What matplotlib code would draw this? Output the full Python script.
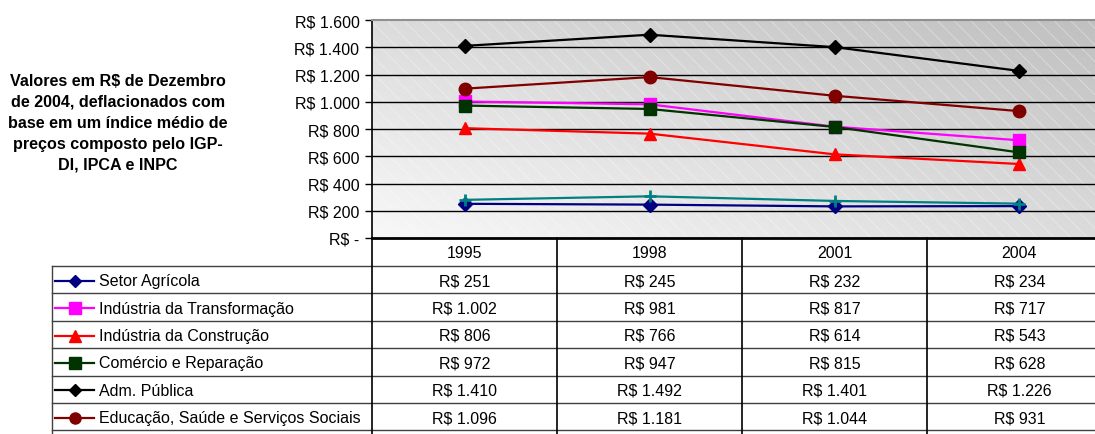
import numpy as np
import matplotlib
matplotlib.use("Agg")
import matplotlib.pyplot as plt

plt.rcParams['font.family'] = ['Liberation Sans', 'DejaVu Sans']

# data
anos = ['1995', '1998', '2001', '2004']
setores = ['Setor Agrícola', 'Indústria da Transformação', 'Indústria da Construção',
           'Comércio e Reparação', 'Adm. Pública', 'Educação, Saúde e Serviços Sociais',
           'Outros Serviços']
agricola = [251, 245, 232, 234]
transformacao = [1002, 981, 817, 717]
construcao = [806, 766, 614, 543]
comercio = [972, 947, 815, 628]
adm_publica = [1410, 1492, 1401, 1226]
educacao = [1096, 1181, 1044, 931]
outros = [280, 306, 272, 252]
series = [agricola, transformacao, construcao, comercio, adm_publica, educacao, outros]

cores = ['#000080', '#FF00FF', '#FF0000', '#003300', '#000000', '#800000', '#008080']
marcadores = ['D', 's', '^', 's', 'D', 'o', '+']
tam = [7.5, 9, 9, 9, 7.5, 9, 9]

W, H = 1095, 435
fig = plt.figure(figsize=(W / 100, H / 100), dpi=100)

x0, ytop, ybot = 372, 21, 239
colw = 185
ax = fig.add_axes([x0 / W, (H - ybot) / H, (W - x0) / W, (ybot - ytop) / H])
ax.set_xlim(-0.5, (W - x0) / colw - 0.5)
ax.set_ylim(0, 1600)

# gradient background with faint diagonal stripes
gx, gy = np.meshgrid(np.linspace(0, 1, 200), np.linspace(1, 0, 100))
grad = 0.97 - 0.22 * (gx + gy) / 2
ax.imshow(grad, cmap='gray', vmin=0, vmax=1, extent=[0, 1, 0, 1], transform=ax.transAxes,
          aspect='auto', zorder=0, interpolation='bilinear')
plt.rcParams['hatch.linewidth'] = 0.5
ax.add_patch(plt.Rectangle((0, 0), 1, 1, transform=ax.transAxes, facecolor='none',
                           edgecolor='white', hatch='\\\\', lw=0, alpha=0.45, zorder=0.5))

for v in range(200, 1600, 200):
    ax.axhline(v, color='black', lw=1, zorder=1)

xs = np.arange(len(anos))
for vals, c, m, s in zip(series, cores, marcadores, tam):
    ax.plot(xs, vals, color=c, lw=1.6, marker=m, markersize=s, markeredgewidth=2 if m == '+' else 1,
            markerfacecolor=c, markeredgecolor=c, zorder=3)

yt = list(range(0, 1601, 200))
ax.set_yticks(yt)
ax.set_yticklabels(['R$ -' if v == 0 else 'R$ ' + f'{v:,}'.replace(',', '.') for v in yt], fontsize=11.5)
ax.set_xticks([])
ax.tick_params(axis='y', length=5, width=1, pad=4)
ax.spines['right'].set_visible(False)
ax.spines['top'].set_color('#909090')
ax.spines['top'].set_linewidth(1.5)
ax.spines['bottom'].set_linewidth(2)
ax.spines['left'].set_linewidth(1.2)

# side note
fig.text(118 / W, 1 - 123 / H,
         'Valores em R$ de Dezembro\nde 2004, deflacionados com\nbase em um índice médio de\npreços composto pelo IGP-\nDI, IPCA e INPC',
         ha='center', va='center', fontsize=11.6, fontweight='bold', linespacing=1.5)

# data table
tab = fig.add_axes([0, 0, 1, 1], zorder=5)
tab.set_xlim(0, W)
tab.set_ylim(H, 0)
tab.axis('off')

xl = 52
rh = 27.4
r0 = 267
for i, a in enumerate(anos):
    tab.text(x0 + colw * (i + 0.5), (ybot + r0) / 2 + 1, a, ha='center', va='center', fontsize=11.5)
for k in range(len(setores) + 1):
    yy = r0 + rh * k
    tab.plot([xl, W], [yy, yy], color='#404040', lw=1)
tab.plot([xl, xl], [r0, H], color='#404040', lw=1)
for i in range(len(anos)):
    xx = x0 + colw * i
    tab.plot([xx, xx], [ybot, H], color='black', lw=1.2)

# rows that fit inside the picture (the last one is cut off by the lower edge)
for k, (nome, vals, c, m, s) in enumerate(zip(setores, series, cores, marcadores, tam)):
    yc = r0 + rh * (k + 0.5) + 1
    if yc > H - 8:
        continue
    tab.plot([55, 94], [yc, yc], color=c, lw=1.6)
    tab.plot([75], [yc], marker=m, color=c, markersize=s - 1, markeredgewidth=2 if m == '+' else 1)
    tab.text(99, yc, nome, ha='left', va='center', fontsize=11.5)
    for i, v in enumerate(vals):
        tab.text(x0 + colw * (i + 0.5), yc, 'R$ ' + f'{v:,}'.replace(',', '.'),
                 ha='center', va='center', fontsize=11.5)

fig.savefig('out.png', dpi=100)
